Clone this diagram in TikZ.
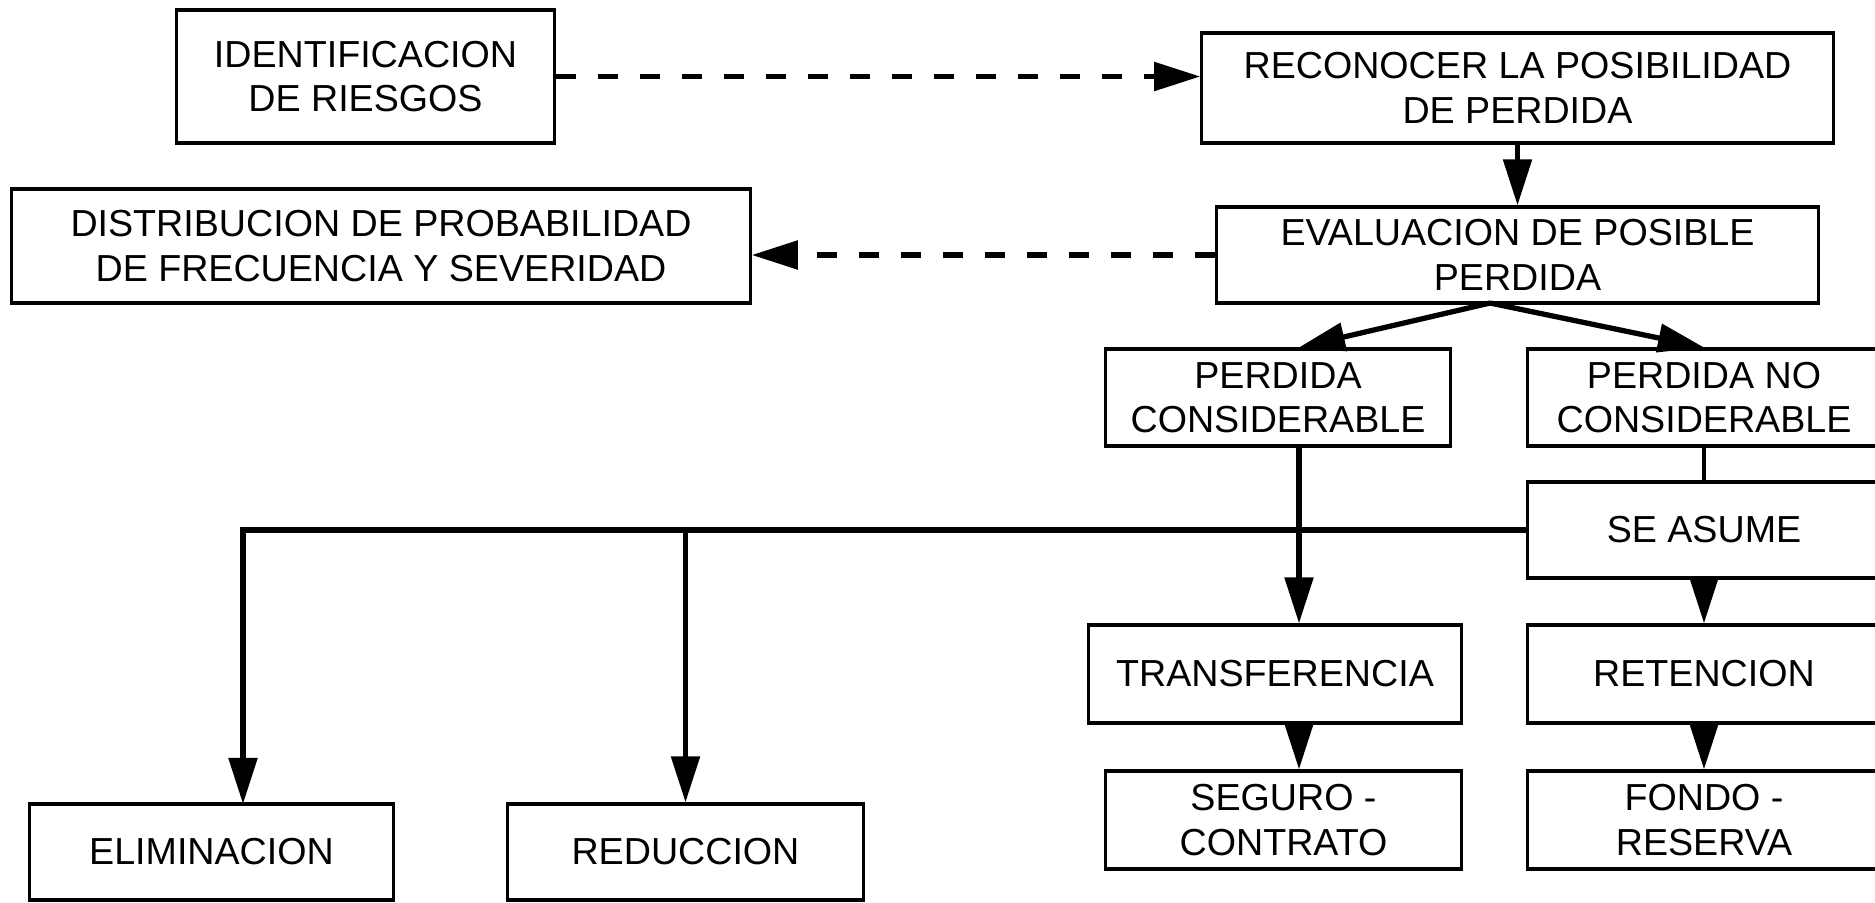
\documentclass[tikz,border=0pt]{standalone}
\usepackage{fontspec}
\setmainfont{Liberation Sans}
\usetikzlibrary{arrows.meta}

\begin{document}
\begin{tikzpicture}[x=0.01cm, y=-0.01cm,
	every node/.style={font=\fontsize{10.7}{12.6}\selectfont},
	>={Triangle[length=4.6mm, width=2.8mm]},
	box/.style={draw, line width=0.9pt, align=center, inner sep=0pt},
	conn/.style={line width=1.5pt},
	dashconn/.style={line width=1.5pt, dash pattern=on 2mm off 2.2mm}]
	\useasboundingbox (0,0) rectangle (1875,903);
	\clip (0,0) rectangle (1875,903);
	\node[box, minimum width=3.77cm, minimum height=1.33cm] (ident) at (365.5,76.5) {IDENTIFICACION\\DE RIESGOS};
	\node[box, minimum width=6.31cm, minimum height=1.10cm] (recon) at (1517.5,88) {RECONOCER LA POSIBILIDAD\\DE PERDIDA};
	\node[box, minimum width=7.38cm, minimum height=1.14cm] (distrib) at (381,246) {DISTRIBUCION DE PROBABILIDAD\\DE FRECUENCIA Y SEVERIDAD};
	\node[box, minimum width=6.01cm, minimum height=0.96cm] (eval) at (1517.5,255) {EVALUACION DE POSIBLE\\PERDIDA};
	\node[box, minimum width=3.44cm, minimum height=0.97cm] (pcons) at (1278,397.5) {PERDIDA\\CONSIDERABLE};
	\node[box, minimum width=3.52cm, minimum height=0.97cm] (pnocons) at (1704,397.5) {PERDIDA NO\\CONSIDERABLE};
	\node[box, minimum width=3.52cm, minimum height=0.96cm] (seasume) at (1704,530) {SE ASUME};
	\node[box, minimum width=3.72cm, minimum height=0.98cm] (transf) at (1275,674) {TRANSFERENCIA};
	\node[box, minimum width=3.52cm, minimum height=0.98cm] (reten) at (1704,674) {RETENCION};
	\node[box, minimum width=3.55cm, minimum height=0.98cm] (seguro) at (1283.5,820) {SEGURO -\\CONTRATO};
	\node[box, minimum width=3.52cm, minimum height=0.98cm] (fondo) at (1704,820) {FONDO -\\RESERVA};
	\node[box, minimum width=3.63cm, minimum height=0.96cm] (elim) at (211.5,852) {ELIMINACION};
	\node[box, minimum width=3.55cm, minimum height=0.96cm] (reduc) at (685.5,852) {REDUCCION};
	\coordinate (fork) at (1490,303);
	\coordinate (dropx) at (1299,0);
	\coordinate (elimtop) at (243,804);
	\draw[dashconn,->] (ident.east) -- (ident.east -| recon.west);
	\draw[dashconn,->] (eval.west) -- (eval.west -| distrib.east);
	\draw[conn,->] (recon.south) -- (eval.north);
	\draw[conn,->] (fork) -- (pcons.north -| dropx);
	\draw[conn,->] (fork) -- (pnocons.north);
	\draw[line width=1pt] (pnocons.south) -- (seasume.north);
	\draw[conn,->] (seasume.west) -| (elimtop);
	\draw[conn,->] (reduc.north |- seasume.west) -- (reduc.north);
	\draw[conn,->] (pcons.south -| dropx) -- (transf.north -| dropx);
	\draw[conn,->] (seasume.south) -- (reten.north);
	\draw[conn,->] (transf.south -| dropx) -- (seguro.north -| dropx);
	\draw[conn,->] (reten.south) -- (fondo.north);
\end{tikzpicture}
\end{document}
